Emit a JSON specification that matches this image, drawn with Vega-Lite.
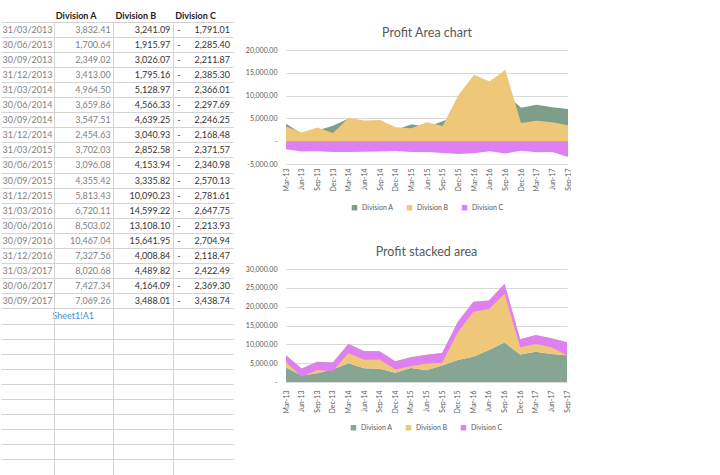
{
  "$schema": "https://vega.github.io/schema/vega-lite/v6.json",
  "background": "white",
  "padding": {"left": 0, "top": 11, "right": 0, "bottom": 0},
  "config": {
    "font": "Lato",
    "view": {"stroke": null},
    "locale": {"number": {"decimal": ".", "thousands": ",", "grouping": [3], "currency": ["$", ""], "minus": ""}},
    "legend": {"layout": {"bottom": {"anchor": "middle"}}}
  },
  "datasets": {
    "profit": [
      {"date": "2013-03-31", "division": "Division A", "value": 3832.41},
      {"date": "2013-06-30", "division": "Division A", "value": 1700.64},
      {"date": "2013-09-30", "division": "Division A", "value": 2349.02},
      {"date": "2013-12-31", "division": "Division A", "value": 3413.00},
      {"date": "2014-03-31", "division": "Division A", "value": 4964.50},
      {"date": "2014-06-30", "division": "Division A", "value": 3659.86},
      {"date": "2014-09-30", "division": "Division A", "value": 3547.51},
      {"date": "2014-12-31", "division": "Division A", "value": 2454.63},
      {"date": "2015-03-31", "division": "Division A", "value": 3702.03},
      {"date": "2015-06-30", "division": "Division A", "value": 3096.08},
      {"date": "2015-09-30", "division": "Division A", "value": 4355.42},
      {"date": "2015-12-31", "division": "Division A", "value": 5813.43},
      {"date": "2016-03-31", "division": "Division A", "value": 6720.11},
      {"date": "2016-06-30", "division": "Division A", "value": 8503.02},
      {"date": "2016-09-30", "division": "Division A", "value": 10467.04},
      {"date": "2016-12-31", "division": "Division A", "value": 7327.56},
      {"date": "2017-03-31", "division": "Division A", "value": 8020.68},
      {"date": "2017-06-30", "division": "Division A", "value": 7427.34},
      {"date": "2017-09-30", "division": "Division A", "value": 7069.26},
      {"date": "2013-03-31", "division": "Division B", "value": 3241.09},
      {"date": "2013-06-30", "division": "Division B", "value": 1915.97},
      {"date": "2013-09-30", "division": "Division B", "value": 3026.07},
      {"date": "2013-12-31", "division": "Division B", "value": 1795.16},
      {"date": "2014-03-31", "division": "Division B", "value": 5128.97},
      {"date": "2014-06-30", "division": "Division B", "value": 4566.33},
      {"date": "2014-09-30", "division": "Division B", "value": 4639.25},
      {"date": "2014-12-31", "division": "Division B", "value": 3040.93},
      {"date": "2015-03-31", "division": "Division B", "value": 2852.58},
      {"date": "2015-06-30", "division": "Division B", "value": 4153.94},
      {"date": "2015-09-30", "division": "Division B", "value": 3335.82},
      {"date": "2015-12-31", "division": "Division B", "value": 10090.23},
      {"date": "2016-03-31", "division": "Division B", "value": 14599.22},
      {"date": "2016-06-30", "division": "Division B", "value": 13108.10},
      {"date": "2016-09-30", "division": "Division B", "value": 15641.95},
      {"date": "2016-12-31", "division": "Division B", "value": 4008.84},
      {"date": "2017-03-31", "division": "Division B", "value": 4489.82},
      {"date": "2017-06-30", "division": "Division B", "value": 4164.09},
      {"date": "2017-09-30", "division": "Division B", "value": 3488.01},
      {"date": "2013-03-31", "division": "Division C", "value": -1791.01},
      {"date": "2013-06-30", "division": "Division C", "value": -2285.40},
      {"date": "2013-09-30", "division": "Division C", "value": -2211.87},
      {"date": "2013-12-31", "division": "Division C", "value": -2385.30},
      {"date": "2014-03-31", "division": "Division C", "value": -2366.01},
      {"date": "2014-06-30", "division": "Division C", "value": -2297.69},
      {"date": "2014-09-30", "division": "Division C", "value": -2246.25},
      {"date": "2014-12-31", "division": "Division C", "value": -2168.48},
      {"date": "2015-03-31", "division": "Division C", "value": -2371.57},
      {"date": "2015-06-30", "division": "Division C", "value": -2340.98},
      {"date": "2015-09-30", "division": "Division C", "value": -2570.13},
      {"date": "2015-12-31", "division": "Division C", "value": -2781.61},
      {"date": "2016-03-31", "division": "Division C", "value": -2647.75},
      {"date": "2016-06-30", "division": "Division C", "value": -2213.93},
      {"date": "2016-09-30", "division": "Division C", "value": -2704.94},
      {"date": "2016-12-31", "division": "Division C", "value": -2118.47},
      {"date": "2017-03-31", "division": "Division C", "value": -2422.49},
      {"date": "2017-06-30", "division": "Division C", "value": -2369.30},
      {"date": "2017-09-30", "division": "Division C", "value": -3438.74}
    ]
  },
  "spacing": 12,
  "hconcat": [
    {
      "width": 179,
      "height": 453,
      "data": {"name": "profit"},
      "layer": [
        {
          "mark": {"type": "text", "align": "right", "baseline": "middle", "dx": -3, "fontSize": 9},
          "encoding": {
            "x": {"field": "division", "type": "nominal", "bandPosition": 1,
              "scale": {"type": "band", "domain": ["Division A", "Division B", "Division C"], "paddingInner": 0, "paddingOuter": 0},
              "axis": {"orient": "top", "title": null, "bandPosition": 0, "labelAngle": 0, "labelAlign": "left", "labelBaseline": "middle", "labelPadding": 7, "labelOffset": -28, "labelFontWeight": "bold", "labelFontSize": 9, "labelColor": "#222222", "ticks": false, "domain": true, "domainColor": "#d4d4d4", "grid": true, "gridColor": "#d4d4d4", "gridWidth": 1}},
            "y": {"field": "date", "type": "nominal",
              "scale": {"type": "band", "domain": ["2013-03-31", "2013-06-30", "2013-09-30", "2013-12-31", "2014-03-31", "2014-06-30", "2014-09-30", "2014-12-31", "2015-03-31", "2015-06-30", "2015-09-30", "2015-12-31", "2016-03-31", "2016-06-30", "2016-09-30", "2016-12-31", "2017-03-31", "2017-06-30", "2017-09-30", "r1", "r2", "r3", "r4", "r5", "r6", "r7", "r8", "r9", "r10", "r11"], "paddingInner": 0, "paddingOuter": 0},
              "axis": {"title": null, "labelExpr": "datum.value == 'r1' ? 'Sheet1!A1' : (indexof(datum.value, 'r') == 0 ? '' : utcFormat(toDate(datum.value), '%d/%m/%Y'))", "labelFontSize": 9, "labelColor": {"condition": {"test": "datum.value == 'r1'", "value": "#3f8fd8"}, "value": "#7f7f7f"}, "labelAlign": {"condition": {"test": "datum.value == 'r1'", "value": "left"}, "value": "right"}, "labelPadding": -51, "labelOverlap": false, "ticks": true, "tickSize": 53, "tickColor": "#d4d4d4", "tickWidth": 1, "domain": true, "domainColor": "#d4d4d4", "grid": true, "gridColor": "#d4d4d4", "gridWidth": 1, "bandPosition": 0}},
            "text": {"field": "value", "type": "quantitative", "format": ",.2f"},
            "color": {"condition": {"test": "datum.division == 'Division A'", "value": "#7f7f7f"}, "value": "#333333"}
          }
        },
        {
          "transform": [{"filter": "datum.division == 'Division C'"}],
          "mark": {"type": "text", "align": "left", "baseline": "middle", "dx": 4, "fontSize": 9, "color": "#333333", "text": "-"},
          "encoding": {
            "x": {"field": "division", "type": "nominal", "bandPosition": 0},
            "y": {"field": "date", "type": "nominal"}
          }
        }
      ]
    },
    {
      "spacing": 3,
      "resolve": {"scale": {"color": "independent"}, "legend": {"color": "independent"}},
      "vconcat": [
        {
          "width": 282,
          "height": 1,
          "data": {"name": "profit"},
          "transform": [{"filter": "false"}],
          "mark": {"type": "point", "opacity": 0},
          "encoding": {}
        },
        {
          "spacing": 34,
          "resolve": {"scale": {"color": "independent"}, "legend": {"color": "independent"}},
          "vconcat": [
            {
              "width": 282,
              "height": 114,
              "data": {"name": "profit"},
              "title": {"text": "Profit Area chart", "fontSize": 12.5, "fontWeight": "normal", "color": "#595959", "offset": 7},
              "mark": {"type": "area", "opacity": 1},
              "encoding": {
                "x": {"field": "date", "type": "ordinal", "scale": {"type": "point", "padding": 0},
                  "axis": {"labelExpr": "utcFormat(toDate(datum.value), '%b-%y')", "labelAngle": 270, "labelFontSize": 7, "labelColor": "#595959", "ticks": false, "domain": false, "title": null, "labelPadding": 4}},
                "y": {"field": "value", "type": "quantitative", "stack": null, "scale": {"domain": [-5000, 20000], "nice": false},
                  "axis": {"values": [-5000, 0, 5000, 10000, 15000, 20000], "labelExpr": "datum.value == 0 ? '-' : (datum.value < 0 ? '-' : '') + format(datum.value, ',.2f')", "labelFontSize": 7, "labelColor": "#595959", "ticks": false, "domain": false, "title": null, "grid": true, "gridColor": "#d9d9d9", "labelPadding": 9}},
                "color": {"field": "division", "type": "nominal",
                  "scale": {"domain": ["Division A", "Division B", "Division C"], "range": ["#7f9e8a", "#efc778", "#df80f2"]},
                  "legend": {"orient": "bottom", "direction": "horizontal", "title": null, "symbolType": "square", "symbolSize": 30, "labelFontSize": 7, "labelColor": "#595959", "columnPadding": 12, "offset": 13}}
              }
            },
            {
              "width": 281,
              "height": 113,
              "data": {"name": "profit"},
              "title": {"text": "Profit stacked area", "fontSize": 12.5, "fontWeight": "normal", "color": "#595959", "offset": 7},
              "transform": [
                {"window": [{"op": "sum", "field": "value", "as": "top"}], "groupby": ["date"], "sort": [{"field": "division"}], "frame": [null, 0]},
                {"window": [{"op": "lag", "field": "top", "param": 1, "as": "bot"}], "groupby": ["date"], "sort": [{"field": "division"}]}
              ],
              "encoding": {
                "x": {"field": "date", "type": "ordinal", "scale": {"type": "point", "padding": 0},
                  "axis": {"labelExpr": "utcFormat(toDate(datum.value), '%b-%y')", "labelAngle": 270, "labelFontSize": 7, "labelColor": "#595959", "ticks": false, "domain": false, "title": null, "labelPadding": 8}},
                "color": {"field": "division", "type": "nominal",
                  "scale": {"domain": ["Division A", "Division B", "Division C"], "range": ["#86a592", "#efc778", "#df80f2"]},
                  "legend": {"orient": "bottom", "direction": "horizontal", "title": null, "symbolType": "square", "symbolSize": 30, "labelFontSize": 7, "labelColor": "#595959", "columnPadding": 12, "offset": 11}}
              },
              "layer": [
                {
                  "transform": [{"filter": "datum.division == 'Division A'"}],
                  "mark": {"type": "area", "opacity": 1},
                  "encoding": {
                    "y": {"field": "value", "type": "quantitative", "stack": null, "scale": {"domain": [0, 30000], "nice": false},
                      "axis": {"values": [0, 5000, 10000, 15000, 20000, 25000, 30000], "labelExpr": "datum.value == 0 ? '-' : format(datum.value, ',.2f')", "labelFontSize": 7, "labelColor": "#595959", "ticks": false, "domain": false, "title": null, "grid": true, "gridColor": "#d9d9d9", "labelPadding": 9}}
                  }
                },
                {
                  "transform": [{"filter": "datum.division != 'Division A'"}],
                  "mark": {"type": "area", "opacity": 1},
                  "encoding": {
                    "y": {"field": "top", "type": "quantitative",
                      "axis": {"values": [0, 5000, 10000, 15000, 20000, 25000, 30000], "labelExpr": "datum.value == 0 ? '-' : format(datum.value, ',.2f')", "labelFontSize": 7, "labelColor": "#595959", "ticks": false, "domain": false, "title": null, "grid": true, "gridColor": "#d9d9d9", "labelPadding": 9}},
                    "y2": {"field": "bot"}
                  }
                }
              ]
            }
          ]
        }
      ]
    }
  ]
}
